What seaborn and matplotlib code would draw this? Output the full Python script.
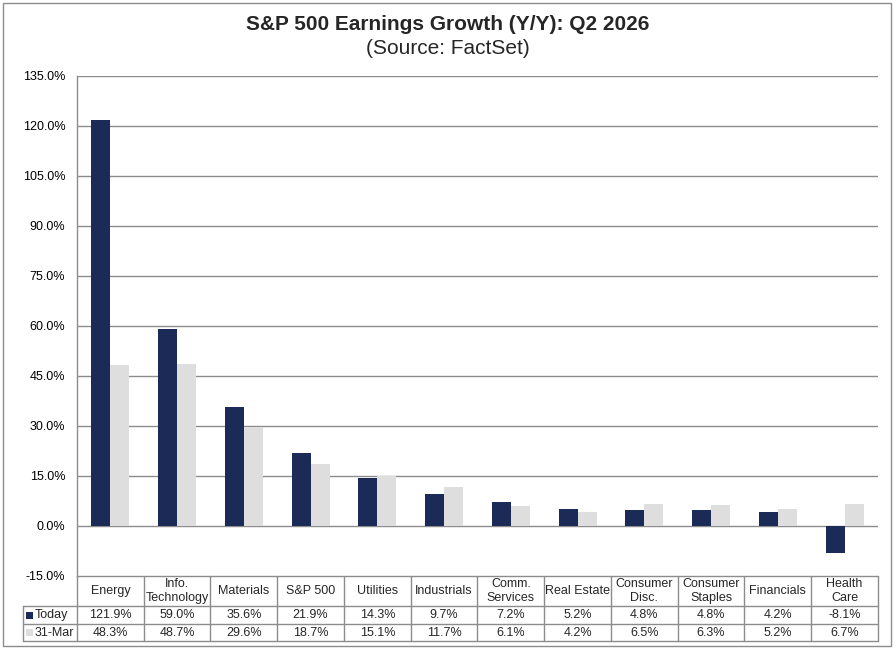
import numpy as np
import pandas as pd
import matplotlib
matplotlib.use("Agg")
import matplotlib.pyplot as plt
from matplotlib.patches import Rectangle
from matplotlib.lines import Line2D
import matplotlib.transforms as mtransforms
import seaborn as sns

# ---- data ----
categories = ["Energy", "Info.\nTechnology", "Materials", "S&P 500", "Utilities",
              "Industrials", "Comm.\nServices", "Real Estate", "Consumer\nDisc.",
              "Consumer\nStaples", "Financials", "Health\nCare"]
today = [121.9, 59.0, 35.6, 21.9, 14.3, 9.7, 7.2, 5.2, 4.8, 4.8, 4.2, -8.1]
mar31 = [48.3, 48.7, 29.6, 18.7, 15.1, 11.7, 6.1, 4.2, 6.5, 6.3, 5.2, 6.7]
series_names = ["Today", "31-Mar"]
yticks = list(range(-15, 136, 15))

colors = {"Today": "#1B2A56", "31-Mar": "#DEDEDE"}
grid_col = "#8C8C8C"

df = pd.DataFrame({
    "category": categories * 2,
    "series": [series_names[0]] * len(categories) + [series_names[1]] * len(categories),
    "value": today + mar31,
})

sns.set_theme(style="white")
plt.rcParams["font.family"] = ["Liberation Sans", "DejaVu Sans"]

W, H = 895, 651
fig = plt.figure(figsize=(W / 100, H / 100), dpi=100)

def fx(px):
    return px / W

def fy(py):
    return 1 - py / H

ax_l, ax_r, ax_t, ax_b = 77, 878, 76, 576
ax = fig.add_axes([fx(ax_l), fy(ax_b), fx(ax_r - ax_l), fy(ax_t) - fy(ax_b)])

sns.barplot(data=df, x="category", y="value", hue="series", order=categories,
            hue_order=series_names, palette=colors, width=0.57, dodge=True,
            saturation=1, legend=False, ax=ax, edgecolor="none", linewidth=0)

ax.set_xlim(-0.5, len(categories) - 0.5)
ax.set_ylim(-15, 135)
ax.set_yticks(yticks)
ax.set_yticklabels([f"{v:.1f}%" for v in yticks], fontsize=9, color="black")
ax.set_xticks([])
ax.set_xlabel("")
ax.set_ylabel("")
for yv in yticks:
    if yv > -15:
        ax.axhline(yv, color=grid_col, lw=1, zorder=0.5)
for s in ["top", "right", "bottom"]:
    ax.spines[s].set_visible(False)
ax.spines["left"].set_color(grid_col)
ax.spines["left"].set_linewidth(1)
ax.tick_params(axis="y", length=2, color=grid_col, pad=6.5)

# ---- data table ----
blend = mtransforms.blended_transform_factory(ax.transData, fig.transFigure)
rows_y = [576, 606, 624, 641]
n = len(categories)
edges = np.arange(n + 1) - 0.5

def hline(x0, x1, y, trans):
    fig.add_artist(Line2D([x0, x1], [fy(y), fy(y)], color=grid_col, lw=1, transform=trans))

for y in rows_y:
    hline(edges[0], edges[-1], y, blend)
for y in rows_y[1:]:
    fig.add_artist(Line2D([fx(23), fx(ax_l)], [fy(y), fy(y)], color=grid_col, lw=1,
                          transform=fig.transFigure))
for e in edges:
    fig.add_artist(Line2D([e, e], [fy(rows_y[0]), fy(rows_y[-1])], color=grid_col, lw=1,
                          transform=blend))
fig.add_artist(Line2D([fx(23), fx(23)], [fy(rows_y[1]), fy(rows_y[-1])], color=grid_col,
                      lw=1, transform=fig.transFigure))

fs = 9
for i, cat in enumerate(categories):
    fig.text(i, fy((rows_y[0] + rows_y[1]) / 2), cat, transform=blend, ha="center",
             va="center", fontsize=fs, linespacing=1.3)
    fig.text(i, fy((rows_y[1] + rows_y[2]) / 2), f"{today[i]:.1f}%", transform=blend,
             ha="center", va="center", fontsize=fs)
    fig.text(i, fy((rows_y[2] + rows_y[3]) / 2), f"{mar31[i]:.1f}%", transform=blend,
             ha="center", va="center", fontsize=fs)

for k, name in enumerate(series_names):
    yc = (rows_y[k + 1] + rows_y[k + 2]) / 2
    fig.add_artist(Rectangle((fx(26), fy(yc + 3.5)), fx(7), fy(yc - 3.5) - fy(yc + 3.5),
                             transform=fig.transFigure, facecolor=colors[name],
                             edgecolor="none"))
    fig.text(fx(35), fy(yc), name, ha="left", va="center", fontsize=fs)

# ---- titles ----
fig.text(0.5, fy(25), "S&P 500 Earnings Growth (Y/Y): Q2 2026", ha="center", va="center",
         fontsize=15, fontweight="bold")
fig.text(0.5, fy(48), "(Source: FactSet)", ha="center", va="center", fontsize=15)

# ---- outer border ----
fig.add_artist(Rectangle((fx(3), fy(646)), fx(888), fy(3) - fy(646),
                         transform=fig.transFigure, fill=False, edgecolor=grid_col, lw=1))

fig.savefig("out.png", dpi=100)
